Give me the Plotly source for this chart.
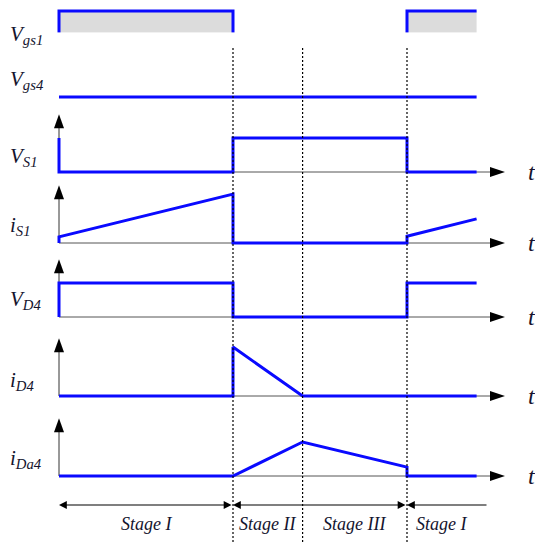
import plotly.graph_objects as go

# ---- data: one switching period, time in arbitrary units ----
stage_edges = [0, 5, 7, 10, 12]
stage_names = ["Stage I", "Stage II", "Stage III", "Stage I"]

signal_labels = [
    "V<sub>gs1</sub>", "V<sub>gs4</sub>", "V<sub>S1</sub>", "i<sub>S1</sub>",
    "V<sub>D4</sub>", "i<sub>D4</sub>", "i<sub>Da4</sub>",
]

vgs1_t = [0, 0, 5, 5, 10, 10, 12]
vgs1_v = [0, 1, 1, 0, 0, 1, 1]
vgs4_t = [0, 12]
vgs4_v = [0, 0]
vs1_t = [0, 0, 5, 5, 10, 10, 12]
vs1_v = [1, 0, 0, 1, 1, 0, 0]
is1_t = [0, 0, 5, 5, 10, 10, 12]
is1_v = [0, 0.18, 1.44, 0, 0, 0.2, 0.71]
vd4_t = [0, 0, 5, 5, 10, 10, 12]
vd4_v = [0, 1, 1, 0, 0, 1, 1]
id4_t = [0, 5, 5, 7, 12]
id4_v = [0, 0, 1.44, 0, 0]
ida4_t = [0, 5, 7, 10, 10, 12]
ida4_v = [0, 0, 1.0, 0.26, 0, 0]

waves = [
    (vgs1_t, vgs1_v), (vgs4_t, vgs4_v), (vs1_t, vs1_v), (is1_t, is1_v),
    (vd4_t, vd4_v), (id4_t, id4_v), (ida4_t, ida4_v),
]

# ---- layout geometry (pixels of the 543x550 page) ----
PAGE_MARGIN = 8     # default <body> margin around the plot div
W, H = 543 - PAGE_MARGIN, 550 - 2 * PAGE_MARGIN
X0_PX = 59          # page pixel of t = 0
PX_T = 34.8         # pixels per time unit
PX_V = 34           # pixels per amplitude unit
baselines_px = [45, 97, 172, 243, 317, 396, 476]
has_axis = [False, False, True, True, True, True, True]
label_y = [0.3, 0.5, 0.45, 0.5, 0.5, 0.45, 0.5]
V_LO, V_HI = -0.35, 1.9
T_TIP = (505 - X0_PX) / PX_T
V_TIP = 1.7

BLUE = "#0a0aff"
TXT = "#14142e"
SERIF = "Liberation Serif, Times New Roman, serif"


def paper_y(py):
    # page pixel row -> paper fraction of the figure
    return 1 - (py - PAGE_MARGIN) / H


x_left = -(X0_PX - PAGE_MARGIN) / PX_T
fig = go.Figure()
layout = dict(
    width=W, height=H, margin=dict(l=0, r=0, t=0, b=0),
    plot_bgcolor="white", paper_bgcolor="white", showlegend=False,
    xaxis=dict(range=[x_left, x_left + W / PX_T], visible=False, fixedrange=True),
)
shapes = []
annotations = []

for i, ((tt, vv), base) in enumerate(zip(waves, baselines_px)):
    ax_name = "yaxis" if i == 0 else f"yaxis{i + 1}"
    yref = "y" if i == 0 else f"y{i + 1}"
    top_px = max(PAGE_MARGIN, base - V_HI * PX_V)
    bot_px = base - V_LO * PX_V
    layout[ax_name] = dict(
        domain=[paper_y(bot_px), paper_y(top_px)],
        range=[V_LO, (base - top_px) / PX_V],
        visible=False, anchor="x", fixedrange=True,
    )

    if has_axis[i]:
        # time axis and amplitude axis, with filled arrowheads
        shapes.append(dict(type="line", xref="x", yref=yref, x0=0, x1=T_TIP - 10 / PX_T,
                           y0=0, y1=0, line=dict(color="#555", width=1), layer="below"))
        shapes.append(dict(type="line", xref="x", yref=yref, x0=0, x1=0,
                           y0=0, y1=V_TIP - 10 / PX_V, line=dict(color="#333", width=1), layer="below"))
        hx, hw = 15 / PX_T, 5 / PX_V
        shapes.append(dict(type="path", xref="x", yref=yref,
                           path=f"M{T_TIP},0 L{T_TIP - hx},{hw} L{T_TIP - hx},{-hw} Z",
                           fillcolor="black", line=dict(width=0)))
        vx, vh = 5 / PX_T, 14 / PX_V
        shapes.append(dict(type="path", xref="x", yref=yref,
                           path=f"M0,{V_TIP} L{-vx},{V_TIP - vh} L{vx},{V_TIP - vh} Z",
                           fillcolor="black", line=dict(width=0)))
        annotations.append(dict(x=(532 - X0_PX) / PX_T, y=0, xref="x", yref=yref,
                                text="<i>t</i>", showarrow=False, yanchor="middle",
                                font=dict(family=SERIF, size=24, color=TXT)))

    annotations.append(dict(x=(8 - X0_PX) / PX_T, y=label_y[i], xref="x", yref=yref,
                            text=f"<i>{signal_labels[i]}</i>", showarrow=False,
                            xanchor="left", yanchor="middle",
                            font=dict(family=SERIF, size=21, color=TXT)))

    fig.add_trace(go.Scatter(
        x=tt, y=vv, mode="lines", yaxis=yref,
        line=dict(color=BLUE, width=3),
        fill="tozeroy" if i == 0 else None,
        fillcolor="#dcdcdc",
        hoverinfo="skip",
    ))

# dotted stage boundaries
for t in stage_edges[1:4]:
    shapes.append(dict(type="line", xref="x", yref="paper", x0=t, x1=t,
                       y0=paper_y(542), y1=paper_y(47),
                       line=dict(color="black", width=1.2, dash="2px,2px")))

# stage arrows and names
arrow_y = paper_y(505)
arrow_ends = [stage_edges[0], stage_edges[1], stage_edges[3], (488 - X0_PX) / PX_T]
for k in range(3):
    a, b = arrow_ends[k], arrow_ends[k + 1]
    annotations.append(dict(x=a, y=arrow_y, xref="x", yref="paper", ax=b, ay=0,
                            axref="x", ayref="pixel", text="", showarrow=True,
                            arrowhead=2, arrowsize=1.3, arrowwidth=1.2, arrowcolor="black",
                            startarrowhead=2, startarrowsize=1.3,
                            arrowside="end+start" if k < 2 else "end"))
for k, name in enumerate(stage_names):
    annotations.append(dict(x=(stage_edges[k] + stage_edges[k + 1]) / 2, y=paper_y(524),
                            xref="x", yref="paper", text=f"<i>{name}</i>", showarrow=False,
                            yanchor="middle",
                            font=dict(family=SERIF, size=18, color=TXT)))

layout["shapes"] = shapes
layout["annotations"] = annotations
fig.update_layout(**layout)

fig.write_html("out.html", config={"displayModeBar": False})
